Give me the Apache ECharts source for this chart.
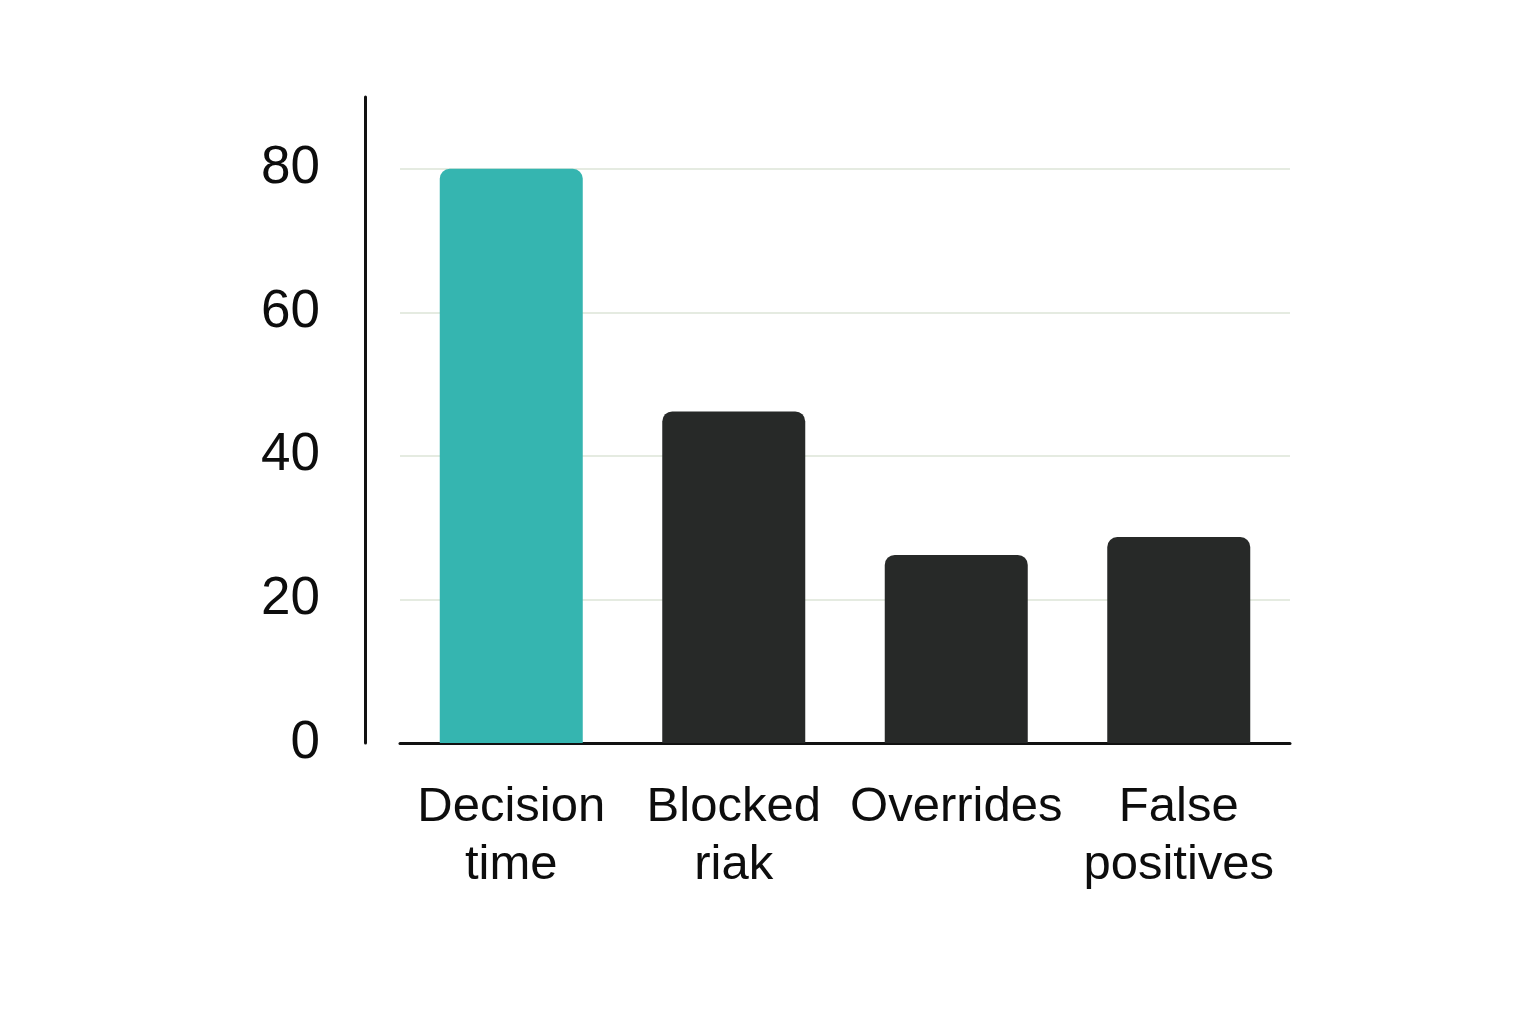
<!DOCTYPE html>
<html>
<head>
<meta charset="utf-8">
<script src="https://cdn.jsdelivr.net/npm/echarts@6/dist/echarts.min.js"></script>
<style>
  html, body { margin: 0; padding: 0; background: #fff; }
  #chart { width: 1536px; height: 1024px; }
</style>
</head>
<body>
<div id="chart"></div>
<script>
// 数据
const categories = ['Decision\ntime', 'Blocked\nriak', 'Overrides', 'False\npositives']
const values = [80, 46.2, 26.2, 28.7]
const barColors = ['#35b5b0', '#272928', '#272928', '#272928']
const yTicks = [0, 20, 40, 60, 80]

const chart = echarts.init(document.getElementById('chart'))

const option = {
  backgroundColor: '#ffffff',
  animation: false,
  grid: {
    left: 400,
    right: 246,
    top: 97,
    bottom: 281
  },
  xAxis: {
    type: 'category',
    data: categories,
    axisLine: { lineStyle: { color: '#111111', width: 3 } },
    axisTick: { show: false },
    axisLabel: {
      margin: 35,
      color: '#0d0d0d',
      fontFamily: 'Liberation Sans, Arial, sans-serif',
      fontSize: 49,
      lineHeight: 58,
      interval: 0
    }
  },
  yAxis: {
    type: 'value',
    min: 0,
    max: 90,
    interval: 20,
    offset: 35, // y轴线往左移，和参考图对齐
    axisLine: { show: true, lineStyle: { color: '#111111', width: 3 } },
    axisTick: { show: false },
    axisLabel: {
      margin: 45,
      color: '#0d0d0d',
      fontFamily: 'Liberation Sans, Arial, sans-serif',
      fontSize: 53,
      showMaxLabel: false,
      formatter: function (v) {
        return yTicks.indexOf(v) >= 0 ? String(v) : ''
      }
    },
    splitLine: {
      show: true,
      lineStyle: {
        // 0 和 90 不画网格线
        color: ['transparent', '#e5ebe1', '#e5ebe1', '#e5ebe1', '#e5ebe1', 'transparent'],
        width: 2
      }
    }
  },
  series: [
    {
      type: 'bar',
      barWidth: 143,
      data: values.map((v, i) => ({
        value: v,
        itemStyle: { color: barColors[i], borderRadius: [10, 10, 0, 0] }
      }))
    }
  ]
}

chart.setOption(option)
</script>
</body>
</html>
